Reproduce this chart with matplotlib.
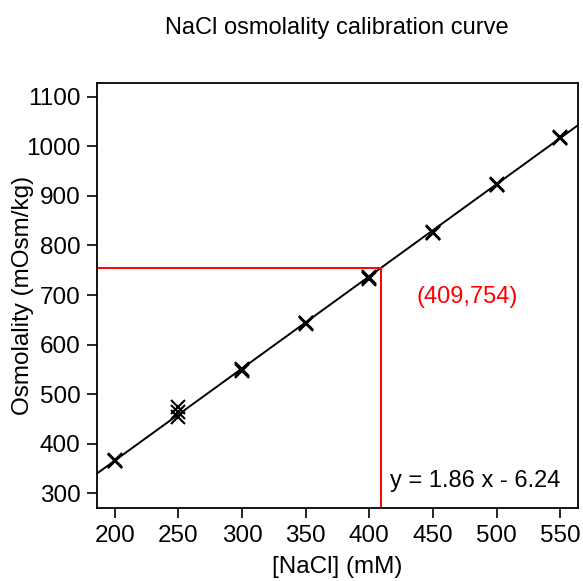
import numpy as np
import matplotlib.pyplot as plt

plt.rcParams['font.family'] = ['Liberation Sans', 'DejaVu Sans']

# NaCl concentration (mM), triplicate measurements
nacl = [200, 200, 200, 250, 250, 250, 300, 300, 300, 350, 350, 350,
        400, 400, 400, 450, 450, 450, 500, 500, 500, 550, 550, 550]
osmo = [365, 366, 364, 474, 464, 454, 548, 550, 547, 642, 644, 643,
        735, 737, 733, 826, 828, 825, 923, 925, 922, 1017, 1018, 1016]

slope = 1.86
intercept = -6.24
sample_x = 409
sample_y = 754

fig = plt.figure(figsize=(5.83, 5.81), dpi=100)
ax = fig.add_axes([97/583, 1 - 508/581, (578-97)/583, (508-83)/581])

ax.axline((0, intercept), slope=slope, color='black', lw=1.4)
ax.plot(nacl, osmo, 'x', color='black', ms=10, mew=1.5)

ax.plot([150, sample_x], [sample_y, sample_y], color='red', lw=1.4)
ax.plot([sample_x, sample_x], [sample_y, 200], color='red', lw=1.4)

ax.text(477, 696, '(409,754)', color='red', fontsize=17, ha='center', va='center')
ax.text(483, 324, 'y = 1.86 x - 6.24', color='black', fontsize=17, ha='center', va='center')

ax.set_xlim(186, 564)
ax.set_ylim(270, 1128)
ax.set_xticks(np.arange(200, 551, 50))
ax.set_yticks(np.arange(300, 1101, 100))
ax.tick_params(labelsize=17.5, length=7, width=1.2, pad=5)
for s in ax.spines.values():
    s.set_linewidth(1.3)

fig.text(337/583, 1 - 567/581, '[NaCl] (mM)', fontsize=17.5, ha='center', va='center')
fig.text(23/583, 1 - 295/581, 'Osmolality (mOsm/kg)', fontsize=17.5,
         rotation=90, ha='center', va='center')
fig.text(337/583, 1 - 28/581, 'NaCl osmolality calibration curve', fontsize=17,
         ha='center', va='center')

fig.savefig('out.png', dpi=100)
